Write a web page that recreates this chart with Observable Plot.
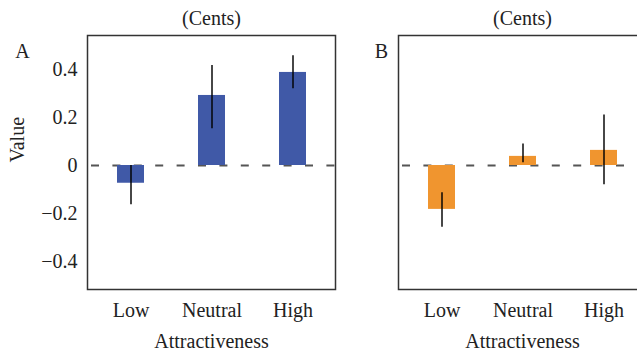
<!DOCTYPE html>
<html>
<head>
<meta charset="utf-8">
<script src="https://cdn.jsdelivr.net/npm/d3@7"></script>
<script src="https://cdn.jsdelivr.net/npm/@observablehq/plot@0.6"></script>
<style>
  html, body { margin: 0; padding: 0; background: #fff; }
  #chart { position: relative; width: 637px; height: 354px; overflow: hidden; }
  #chart svg { position: absolute; top: 0; }
</style>
</head>
<body>
<div id="chart"></div>
<script>
// Attractiveness categories shared by both panels
const categories = ["Low", "Neutral", "High"];

// Panel A: mean value and error-bar ends (cents)
const valuesA = [-0.074, 0.292, 0.388];
const lowerA  = [-0.164, 0.153, 0.320];
const upperA  = [ 0.000, 0.417, 0.458];

// Panel B: mean value and error-bar ends (cents)
const valuesB = [-0.183, 0.038, 0.063];
const lowerB  = [-0.257, 0.011, -0.080];
const upperB  = [-0.114, 0.090, 0.211];

const yTicks = [-0.4, -0.2, 0, 0.2, 0.4];
const panelTitle = "(Cents)";
const xTitle = "Attractiveness";
const yTitle = "Value";

const font = "'Liberation Serif', 'DejaVu Serif', serif";
const fmt = d => d === 0 ? "0" : d3.format(".1f")(d);

function panel({values, lower, upper, color, letter, letterDx, showY, marginLeft, left}) {
  const rows = categories.map((c, i) => ({cat: c, value: values[i], lo: lower[i], hi: upper[i]}));
  const inner = 248;
  const svg = Plot.plot({
    width: marginLeft + inner + 2,
    height: 354,
    marginLeft,
    marginRight: 2,
    marginTop: 35,
    marginBottom: 65,
    style: {fontFamily: font, fontSize: "20px", color: "#222", background: "transparent", overflow: "visible"},
    x: {domain: categories, paddingInner: 0.67, paddingOuter: 0.35},
    y: {domain: [-0.517, 0.542], axis: null},
    marks: [
      Plot.ruleY([0], {stroke: "#555", strokeWidth: 2, strokeDasharray: "8,13.4", strokeDashoffset: -4}),
      Plot.barY(rows, {x: "cat", y: "value", fill: color}),
      Plot.ruleX(rows, {x: "cat", y1: "lo", y2: "hi", stroke: "#000", strokeOpacity: 0.72, strokeWidth: 2}),
      Plot.frame({stroke: "#333", strokeWidth: 1.5}),
      Plot.axisX({tickSize: 0, tickPadding: 13, label: null, fontSize: 20, fontFamily: font}),
      showY ? Plot.axisY({ticks: yTicks, tickSize: 0, tickPadding: 10, tickFormat: fmt, label: null, fontSize: 20, fontFamily: font}) : null,
      Plot.text([panelTitle], {text: d => d, frameAnchor: "top", dy: -25, fontSize: 20}),
      Plot.text([letter], {text: d => d, frameAnchor: "top-left", dx: letterDx, dy: 8, textAnchor: "middle", fontSize: 20}),
      Plot.text([xTitle], {text: d => d, frameAnchor: "bottom", dy: 58, fontSize: 20}),
      showY ? Plot.text([yTitle], {text: d => d, frameAnchor: "left", dx: -70, rotate: -90, fontSize: 20}) : null
    ]
  });
  svg.style.left = left + "px";
  return svg;
}

const chart = document.getElementById("chart");
chart.append(panel({values: valuesA, lower: lowerA, upper: upperA, color: "#4059a7",
  letter: "A", letterDx: -65, showY: true, marginLeft: 87, left: 0}));
chart.append(panel({values: valuesB, lower: lowerB, upper: upperB, color: "#f0952f",
  letter: "B", letterDx: -17, showY: false, marginLeft: 30, left: 368}));
</script>
</body>
</html>
